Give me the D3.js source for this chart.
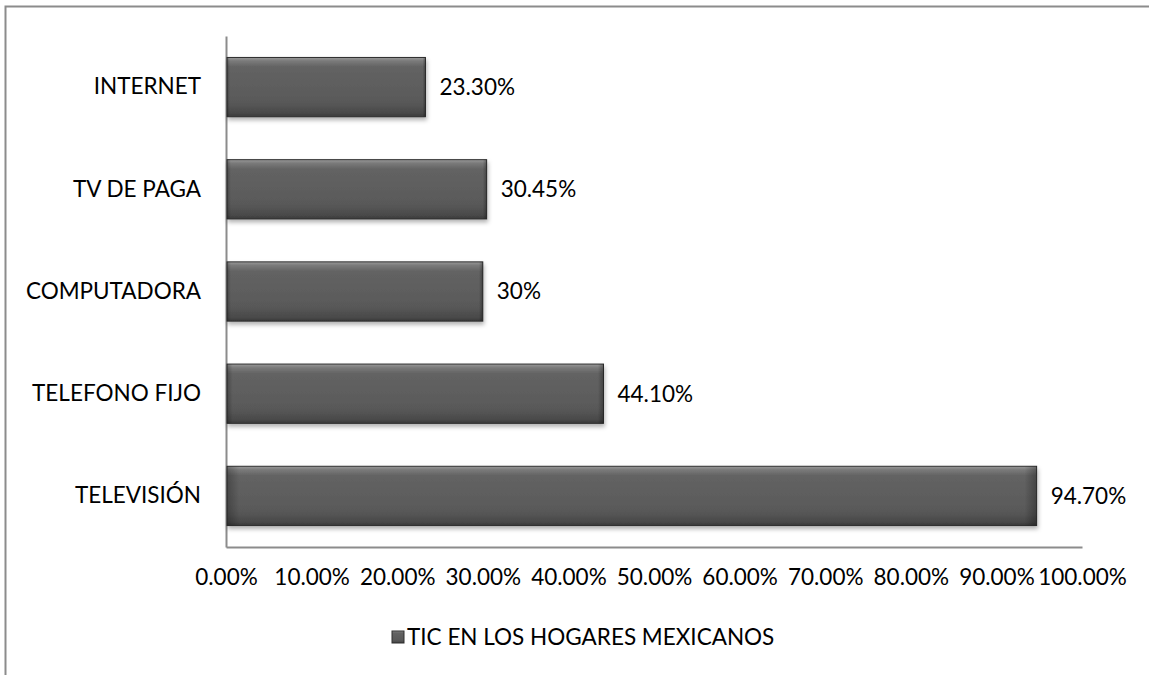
<!DOCTYPE html>
<html>
<head>
<meta charset="utf-8">
<script src="https://cdn.jsdelivr.net/npm/d3@7"></script>
<style>
  html, body { margin: 0; padding: 0; background: #fff; }
  svg { display: block; }
  text { font-family: Lato, "Open Sans", sans-serif; fill: #000; }
</style>
</head>
<body>
<svg id="chart" width="1149" height="675"></svg>
<script>
// Household ICT ownership in Mexico
const categories = ["INTERNET", "TV DE PAGA", "COMPUTADORA", "TELEFONO FIJO", "TELEVISIÓN"];
const values = [23.30, 30.45, 30, 44.10, 94.70];
const valueLabels = ["23.30%", "30.45%", "30%", "44.10%", "94.70%"];
const tickValues = [0, 10, 20, 30, 40, 50, 60, 70, 80, 90, 100];
const seriesName = "TIC EN LOS HOGARES MEXICANOS";

const svg = d3.select("#chart");
const W = 1149, H = 675;
const plot = { left: 226, right: 1082, top: 36, bottom: 547 };
const FS = "22.5px";

// Outer chart frame
svg.append("rect")
  .attr("x", 5.5).attr("y", 6.5)
  .attr("width", W + 10).attr("height", H + 10)
  .attr("fill", "none").attr("stroke", "#8c8c8c").attr("stroke-width", 2);

const defs = svg.append("defs");
const grad = defs.append("linearGradient")
  .attr("id", "barFill").attr("x1", 0).attr("y1", 0).attr("x2", 0).attr("y2", 1);
[["0%", "#9a9a9a"], ["6%", "#7a7a7a"], ["16%", "#636363"], ["75%", "#595959"], ["93%", "#4a4a4a"], ["100%", "#3a3a3a"]]
  .forEach(([o, c]) => grad.append("stop").attr("offset", o).attr("stop-color", c));
const gradH = defs.append("linearGradient")
  .attr("id", "barEdge").attr("x1", 0).attr("y1", 0).attr("x2", 1).attr("y2", 0);
[["0%", "#000", 0.25], ["1.5%", "#000", 0], ["98.5%", "#000", 0], ["100%", "#000", 0.3]]
  .forEach(([o, c, a]) => gradH.append("stop").attr("offset", o).attr("stop-color", c).attr("stop-opacity", a));
const shadow = defs.append("filter").attr("id", "shadow")
  .attr("x", "-5%").attr("y", "-20%").attr("width", "110%").attr("height", "150%");
shadow.append("feDropShadow").attr("dx", 1).attr("dy", 3).attr("stdDeviation", 2)
  .attr("flood-color", "#000").attr("flood-opacity", 0.3);

const x = d3.scaleLinear().domain([0, 100]).range([plot.left, plot.right]);
const y = d3.scaleBand().domain(categories).range([plot.top, plot.bottom]).paddingInner(0.42).paddingOuter(0.21);

// Axes
const xAxis = svg.append("g").attr("transform", `translate(0,${plot.bottom})`)
  .call(d3.axisBottom(x).tickValues(tickValues).tickSize(0).tickPadding(22)
    .tickFormat(d => d3.format(".2f")(d) + "%"));
xAxis.select(".domain").attr("stroke", "#8c8c8c").attr("stroke-width", 2);
xAxis.selectAll("text").style("font-size", FS).attr("font-family", null);

const yAxis = svg.append("g").attr("transform", `translate(${plot.left},0)`)
  .call(d3.axisLeft(y).tickSize(0).tickPadding(25));
yAxis.select(".domain").attr("stroke", "#8c8c8c").attr("stroke-width", 2);
yAxis.selectAll("text").style("font-size", FS).attr("font-family", null);

// Bars
const bars = svg.append("g");
const rows = categories.map((c, i) => ({ c, v: values[i], label: valueLabels[i] }));
bars.selectAll("rect.bar").data(rows).join("rect")
  .attr("class", "bar")
  .attr("x", x(0) + 1).attr("y", d => y(d.c))
  .attr("width", d => x(d.v) - x(0) - 1).attr("height", y.bandwidth())
  .attr("fill", "url(#barFill)").attr("stroke", "#2e2e2e").attr("stroke-width", 1)
  .attr("filter", "url(#shadow)");
bars.selectAll("rect.edge").data(rows).join("rect")
  .attr("class", "edge")
  .attr("x", x(0) + 1).attr("y", d => y(d.c))
  .attr("width", d => x(d.v) - x(0) - 1).attr("height", y.bandwidth())
  .attr("fill", "url(#barEdge)");

// Value labels
svg.append("g").selectAll("text").data(rows).join("text")
  .attr("x", d => x(d.v) + 14)
  .attr("y", d => y(d.c) + y.bandwidth() / 2)
  .attr("dy", "0.35em")
  .style("font-size", FS)
  .text(d => d.label);

// Legend
const legend = svg.append("g").attr("transform", "translate(392,631)");
legend.append("rect").attr("width", 12).attr("height", 12)
  .attr("fill", "url(#barFill)").attr("stroke", "#2e2e2e");
legend.append("text").attr("x", 15).attr("y", 6).attr("dy", "0.35em")
  .style("font-size", FS).text(seriesName);
</script>
</body>
</html>
